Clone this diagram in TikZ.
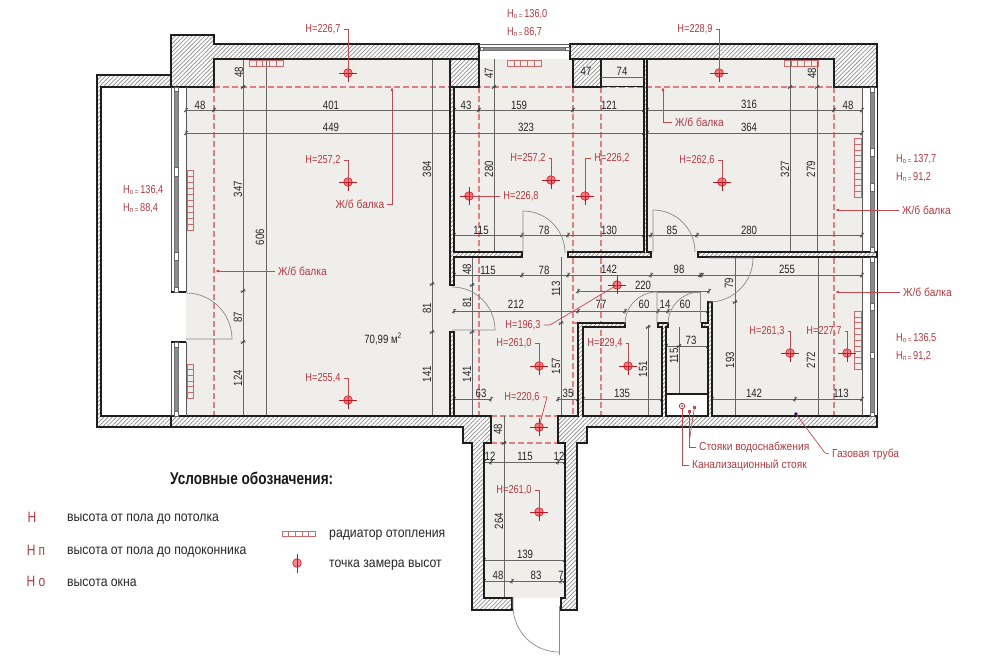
\documentclass[tikz,border=0pt]{standalone}
\usepackage{fontspec}
\setmainfont{Liberation Sans}
\newfontfamily\cond[FakeStretch=0.8]{Liberation Sans}
\newfontfamily\condw[FakeStretch=0.88]{Liberation Sans}
\usetikzlibrary{patterns.meta,arrows.meta}
\definecolor{floorc}{HTML}{F0EEEB}
\definecolor{redt}{HTML}{B23A40}
\definecolor{redl}{HTML}{C04A50}
\definecolor{beamc}{HTML}{DE8082}
\definecolor{ptc}{HTML}{E8202C}
\definecolor{radc}{HTML}{CC6A6C}
\definecolor{dimc}{HTML}{666666}
\definecolor{wallc}{HTML}{1E1E1E}
\definecolor{doorc}{HTML}{8A8A8A}
\tikzset{
  wall/.style={draw=wallc,line width=1.1pt,line join=miter,preaction={fill=white},pattern={Lines[angle=45,distance=3pt,line width=0.7pt]},pattern color=black!45},
  dimline/.style={draw=dimc,line width=0.55pt},
  ticks/.style={draw=black!80,line width=0.55pt},
  beam/.style={draw=beamc,line width=1.1pt,dash pattern=on 6pt off 3pt},
  leader/.style={draw=redl,line width=0.7pt},
  arrowlead/.style={leader,-{Latex[length=4pt,width=3pt]}},
  doorarc/.style={draw=doorc,line width=0.7pt},
  winline/.style={draw=black!65,line width=0.7pt},
  winbar/.style={fill=black!45,draw=black!55,line width=0.4pt},
  winstop/.style={fill=white,draw=black!60,line width=0.4pt},
  radiator/.style={draw=radc,line width=0.6pt},
  dimt/.style={inner sep=0pt,text=black!85,font=\cond\fontsize{12}{12}\selectfont},
  dimr/.style={dimt,rotate=90},
  redt/.style={inner sep=0pt,text=redt,font=\cond\fontsize{11.5}{12}\selectfont},
  redc/.style={inner sep=0pt,text=redt,font=\condw\fontsize{11.6}{12}\selectfont},
  legt/.style={inner sep=0pt,anchor=west,text=black!85,font=\condw\fontsize{13.9}{14}\selectfont},
  legh/.style={inner sep=0pt,text=redt,font=\cond\fontsize{15}{15}\selectfont},
}
\newcount\nid
\newcommand{\dimH}[3]{\global\advance\nid by 1 \node[dimt] (d\the\nid) at (#1,#2) {#3};}
\newcommand{\dimV}[3]{\global\advance\nid by 1 \node[dimr] (d\the\nid) at (#1,#2) {#3};}
\newcommand{\redT}[3]{\global\advance\nid by 1 \node[redt] (r\the\nid) at (#1,#2) {#3};}
\newcommand{\redB}[3]{\global\advance\nid by 1 \node[redc] (r\the\nid) at (#1,#2) {#3};}
\newcommand{\redW}[3]{\global\advance\nid by 1 \node[redc,anchor=west] (r\the\nid) at (#1,#2) {#3};}
\newcommand{\winT}[4]{\global\advance\nid by 1 \node[redt,anchor=west] (r\the\nid) at (#1,#2) {H\raisebox{-1.2pt}{\fontsize{7.5}{8}\selectfont#3 =}\,#4};}
\newcommand{\mpt}[3]{\coordinate (#1) at (#2,#3);
  \fill[ptc,opacity=.55] (#1) circle (4.3pt);
  \draw[ptc,line width=.7pt] (#1) circle (4.3pt);
  \draw[ptc!80!black,line width=.6pt] ([xshift=-9pt]#1) -- ([xshift=9pt]#1) ([yshift=-9pt]#1) -- ([yshift=9pt]#1);}
\newcommand{\radH}[5]{\draw[radiator] (#1,#2) rectangle (#3,#4);
  \foreach \i in {1,...,#5}{\draw[radiator] ({#1+(#3-#1)*\i/#5},#2) -- ({#1+(#3-#1)*\i/#5},#4);}}
\newcommand{\radV}[5]{\draw[radiator] (#1,#2) rectangle (#3,#4);
  \foreach \i in {1,...,#5}{\draw[radiator] (#1,{#2+(#4-#2)*\i/#5}) -- (#3,{#2+(#4-#2)*\i/#5});}}
\begin{document}
\begin{tikzpicture}[x=1pt,y=-1pt]
\useasboundingbox (0,0) rectangle (1000,661);
% ---------- floor
\fill[floorc] (214,59) -- (834,59) -- (834,87) -- (862,87) -- (862,416) -- (558,416) -- (558,443) -- (565,443) -- (565,598) -- (484,598) -- (484,443) -- (491,443) -- (491,416) -- (186,416) -- (186,87) -- (214,87) -- cycle;
\fill[white] (666,394) rectangle (708,416);
% ---------- beams
\draw[beam] (214,87) -- (834,87);
\draw[beam] (214,87) -- (214,416);
\draw[beam] (479,87) -- (479,416);
\draw[beam] (573,87) -- (573,323) -- (578,323);
\draw[beam] (573,327) -- (573,416);
\draw[beam] (601,87) -- (601,416);
\draw[beam] (834,87) -- (834,416);
\draw[beam] (491,416) -- (558,416);
\draw[beam] (491,443) -- (558,443);
% ---------- dimension lines
\foreach \a/\b/\c in {186/862/110,186/862/133,454/862/235,454/862/275,578/709/291,454/708/311,666/708/346,454/491/399,558/578/399,583/662/399,712/862/399,484/565/462,484/565/560,484/565/581,573/644/77}
  {\draw[dimline] (\a,\c) -- (\b,\c);}
\foreach \x/\a/\b in {243/59/416,266/59/416,432/59/416,494/59/252,790/59/252,817/59/252,735/257/416,818/257/416,472/257/416,561/257/416,504/416/598,648/325/416,679/327/394}
  {\draw[dimline] (\x,\a) -- (\x,\b);}
\foreach \x/\y in {186/110,214/110,454/110,479/110,573/110,644/110,647/110,834/110,862/110,186/133,454/133,644/133,647/133,862/133,
  454/235,522/235,568/235,644/235,651/235,697/235,862/235,
  454/275,522/275,568/275,651/275,700/275,702/275,862/275,578/291,709/291,454/311,578/311,625/311,658/311,668/311,708/311,
  454/399,491/399,558/399,578/399,583/399,662/399,712/399,795/399,862/399,484/462,491/462,558/462,565/462,484/560,565/560,484/581,512/581,561/581,565/581,666/346,708/346}
  {\draw[ticks] (\x-2,\y+2) -- (\x+2,\y-2) (\x,\y-2.5) -- (\x,\y+2.5);}
\foreach \x/\y in {243/87,243/291,243/342,494/87,817/87,432/284,432/332,735/302,472/285,472/332,561/323,504/443,648/327,679/346,790/87}
  {\draw[ticks] (\x-2,\y+2) -- (\x+2,\y-2) (\x-2.5,\y) -- (\x+2.5,\y);}
% ---------- walls
\draw[wall] (97,75) -- (171,75) -- (171,87) -- (101,87) -- (101,416) -- (491,416) -- (491,443) -- (484,443) -- (484,598) -- (512,598) -- (512,610) -- (472,610) -- (472,443) -- (463,443) -- (463,427) -- (97,427) -- cycle;
\draw[wall] (558,416) -- (578,416) -- (578,323) -- (625,323) -- (625,327) -- (583,327) -- (583,416) -- (662,416) -- (662,327) -- (658,327) -- (658,323) -- (668,323) -- (668,327) -- (666,327) -- (666,416) -- (708,416) -- (708,327) -- (702,327) -- (702,323) -- (708,323) -- (708,302) -- (712,302) -- (712,416) -- (877,416) -- (877,427) -- (587,427) -- (587,443) -- (577,443) -- (577,610) -- (561,610) -- (561,598) -- (565,598) -- (565,443) -- (558,443) -- cycle;
\draw[wall] (171,35) -- (214,35) -- (214,44) -- (479,44) -- (479,59) -- (214,59) -- (214,87) -- (171,87) -- cycle;
\draw[wall] (450,59) rectangle (479,87);
\draw[wall] (450,87) -- (454,87) -- (454,252) -- (522,252) -- (522,257) -- (454,257) -- (454,285) -- (450,285) -- cycle;
\draw[wall] (450,332) -- (454,332) -- (454,416) -- (450,416) -- cycle;
\draw[wall] (570,44) -- (877,44) -- (877,87) -- (834,87) -- (834,59) -- (570,59) -- cycle;
\draw[wall] (573,59) rectangle (601,87);
\draw[wall] (568,252) -- (644,252) -- (644,59) -- (647,59) -- (647,252) -- (651,252) -- (651,257) -- (568,257) -- cycle;
\draw[wall] (698,252) -- (877,252) -- (877,257) -- (698,257) -- cycle;
\draw[draw=wallc,line width=1.1pt] (601,59) rectangle (644,86.5);
\draw[dimline] (601,77) -- (644,77);
\draw[draw=wallc,line width=1.1pt] (171,416) -- (171,427);
\draw[draw=wallc,line width=1.6pt] (666,394) -- (708,394);
% ---------- windows
\draw[winline] (479,44) -- (570,44);
\draw[winbar] (483,47.5) rectangle (565,50);
\draw[winstop] (480,47.5) rectangle (483,50) (565,47.5) rectangle (569,50);
\foreach \a/\b in {87/292,342/416}{
  \draw[winline] (186,\a) -- (186,\b) (171,\a) -- (171,\b);
  \draw[winbar] (174,\a) rectangle (178,\b);}
\draw[draw=wallc,line width=1.1pt] (171,292) -- (186,292) (171,342) -- (186,342);
\foreach \a/\b in {87/91,167/176,252/260,287/292,342/347,411/416}{\draw[winstop] (174,\a) rectangle (178,\b);}
\foreach \a/\b in {87/252,257/416}{
  \draw[winline] (862,\a) -- (862,\b);
  \draw[draw=wallc,line width=.9pt] (877,\a) -- (877,\b);
  \draw[winbar] (870,\a) rectangle (874,\b);}
\foreach \a/\b in {87/92,148/156,183/191,247/252,257/262,303/310,352/358,412/416}{\draw[winstop] (870,\a) rectangle (874,\b);}
% ---------- doors
\draw[doorarc] (186,339) -- (232,339) arc[start angle=0,end angle=-90,radius=46];
\draw[doorarc] (523,252) -- (523,211) arc[start angle=-90,end angle=0,radius=42];
\draw[doorarc] (653,252) -- (653,210) arc[start angle=-90,end angle=0,radius=42];
\draw[doorarc] (452,330) -- (495,330) arc[start angle=0,end angle=-90,radius=43];
\draw[doorarc] (657,323) -- (657,292) arc[start angle=-90,end angle=-180,radius=32];
\draw[doorarc] (657,292) -- (700,292) -- (700,323);
\draw[doorarc] (700,292) arc[start angle=-90,end angle=-180,radius=32];
\draw[doorarc] (709,258) -- (753,258) arc[start angle=0,end angle=90,radius=44];
\draw[doorarc] (559,606) -- (559,655);
\draw[doorarc] (513,597) -- (513,606) arc[start angle=180,end angle=90,radius=46];
% ---------- radiators
\radH{249}{60}{283}{66.5}{5}
\radH{507}{60}{541}{66.5}{5}
\radH{784}{60}{818}{66.5}{5}
\radV{187}{170}{193}{230}{10}
\radV{187}{364}{193}{398}{6}
\radV{854}{138}{861}{197}{10}
\radV{854}{311}{861}{369}{10}
\radH{282}{531}{315}{536}{5}
% ---------- measurement points
\mpt{p1}{348}{73}
\mpt{p2}{348}{182}
\mpt{p3}{348}{400}
\mpt{p4}{551}{180}
\mpt{p5}{469}{196}
\mpt{p6}{585}{196}
\mpt{p7}{719}{73}
\mpt{p8}{722}{182}
\mpt{p9}{617}{285}
\mpt{p10}{539}{366}
\mpt{p11}{628}{366}
\mpt{p12}{539}{427}
\mpt{p13}{539}{512}
\mpt{p14}{790}{353}
\mpt{p15}{847}{353}
% legend symbol: vertical stroke only
\coordinate (p16) at (297,563);
\fill[ptc,opacity=.55] (p16) circle (4.3pt);
\draw[ptc,line width=.7pt] (p16) circle (4.3pt);
\draw[ptc!80!black,line width=.6pt] ([yshift=-9.5pt]p16) -- ([yshift=9.5pt]p16);
\redT{323}{29}{H=226,7}\draw[leader] (r\the\nid.east) ++(3,0) -- (348,29) -- (p1);
\redT{323}{160}{H=257,2}\draw[leader] (r\the\nid.east) ++(3,0) -- (348,160) -- (p2);
\redT{323}{378}{H=255,4}\draw[leader] (r\the\nid.east) ++(3,0) -- (348,378) -- (p3);
\redT{528}{158}{H=257,2}\draw[leader] (r\the\nid.east) ++(3,0) -- (551,158) -- (p4);
\redT{521}{196}{H=226,8}\draw[leader] (r\the\nid.west) ++(-3,0) -- (p5);
\redT{612}{158}{H=226,2}\draw[leader] (r\the\nid.west) ++(-3,0) -- (585,158) -- (p6);
\redT{695}{29}{H=228,9}\draw[leader] (r\the\nid.east) ++(3,0) -- (719,29) -- (p7);
\redT{697}{160}{H=262,6}\draw[leader] (r\the\nid.east) ++(3,0) -- (722,160) -- (p8);
\redT{523}{325}{H=196,3}\draw[leader] (r\the\nid.east) ++(3,0) -- (550,325) -- (p9);
\redT{514}{343}{H=261,0}\draw[leader] (r\the\nid.east) ++(3,0) -- (539,343) -- (p10);
\redT{605}{343}{H=229,4}\draw[leader] (r\the\nid.east) ++(3,0) -- (628,343) -- (p11);
\redT{522}{397}{H=220,6}\draw[leader] (r\the\nid.east) ++(3,0) -- (547,397) -- (p12);
\redT{514}{490}{H=261,0}\draw[leader] (r\the\nid.east) ++(3,0) -- (539,490) -- (p13);
\redT{767}{331}{H=261,3}\draw[leader] (r\the\nid.east) ++(3,0) -- (790,331) -- (p14);
\redT{824}{331}{H=227,7}\draw[leader] (r\the\nid.east) ++(3,0) -- (847,331) -- (p15);
% ---------- beam labels
\coordinate (b1) at (392,87);\coordinate (b2) at (663,87);\coordinate (b3) at (835,210);\coordinate (b4) at (835,292);\coordinate (b5) at (215,271);
\redB{360}{204}{Ж/б балка}\draw[arrowlead] (r\the\nid.east) ++(3,0) -- (392,204) -- (b1);
\redW{675}{122}{Ж/б балка}\draw[arrowlead] (r\the\nid.west) ++(-3,0) -- (663,122) -- (b2);
\redW{902}{210}{Ж/б балка}\draw[arrowlead] (r\the\nid.west) ++(-3,0) -- (b3);
\redW{903}{292}{Ж/б балка}\draw[arrowlead] (r\the\nid.west) ++(-3,0) -- (b4);
\redW{278}{271}{Ж/б балка}\draw[arrowlead] (r\the\nid.west) ++(-3,0) -- (b5);
% ---------- window labels
\winT{123}{190}{о}{136,4}
\winT{123}{208}{п}{88,4}
\winT{507}{14}{о}{136,0}
\winT{507}{32}{п}{86,7}
\winT{896}{159}{о}{137,7}
\winT{896}{177}{п}{91,2}
\winT{896}{338}{о}{136,5}
\winT{896}{356}{п}{91,2}
% ---------- risers and gas pipe
\coordinate (rs1) at (682,406);\coordinate (rs2) at (689.5,411);\coordinate (rs3) at (694.5,407);\coordinate (gas) at (796,414);
\draw[red!70!black,line width=.6pt] (rs1) circle (2.7pt);
\fill[red!70!black] (rs1) circle (.9pt);
\fill[redl] (rs2) ++(-1.5,-1.5) rectangle ++(3,3);
\fill[redl] (rs3) ++(-1.5,-1.5) rectangle ++(3,3);
\fill[blue!60!black] (gas) circle (1.9pt);
\redW{692}{465}{Канализационный стояк}\draw[leader] (r\the\nid.west) ++(-3,0) -- (682,465) -- (682,409);
\redW{699}{447}{Стояки водоснабжения}\draw[leader] (r\the\nid.west) ++(-3,0) -- (689.5,447) -- (rs2);
\draw[leader] (689.5,440) -- (rs3);
\redW{832}{454}{Газовая труба}\draw[leader] (r\the\nid.west) ++(-3,0) -- (825,453) -- (gas);
% ---------- dimension texts
\dimH{200}{105}{48}\dimH{331}{105}{401}\dimH{331}{127}{449}\dimH{466}{105}{43}\dimH{519}{105}{159}\dimH{609}{105}{121}
\dimH{526}{127}{323}\dimH{749}{104}{316}\dimH{848}{105}{48}\dimH{749}{127}{364}
\dimH{481}{230}{115}\dimH{544}{230}{78}\dimH{609}{230}{130}\dimH{672}{230}{85}\dimH{749}{230}{280}
\dimH{488}{270}{115}\dimH{544}{270}{78}\dimH{609}{269}{142}\dimH{679}{269}{98}\dimH{787}{269}{255}
\dimH{643}{285}{220}\dimH{516}{304}{212}\dimH{601}{304}{77}\dimH{644}{304}{60}\dimH{665}{304}{14}\dimH{685}{304}{60}
\dimH{691}{340}{73}\dimH{481}{393}{63}\dimH{568}{393}{35}\dimH{622}{393}{135}\dimH{754}{393}{142}\dimH{841}{393}{113}
\dimH{490}{456}{12}\dimH{525}{456}{115}\dimH{559}{456}{12}\dimH{525}{554}{139}\dimH{498}{575}{48}\dimH{536}{575}{83}\dimH{561}{575}{7}
\dimH{586}{71}{47}\dimH{622}{71}{74}
\dimV{239}{72}{48}\dimV{238}{189}{347}\dimV{238}{317}{87}\dimV{238}{378}{124}\dimV{260}{237}{606}
\dimV{427}{169}{384}\dimV{427}{308}{81}\dimV{427}{374}{141}\dimV{489}{73}{47}\dimV{489}{169}{280}
\dimV{785}{169}{327}\dimV{812}{73}{48}\dimV{811}{169}{279}\dimV{730}{360}{193}\dimV{729}{283}{79}\dimV{811}{360}{272}
\dimV{467}{269}{48}\dimV{467}{302}{81}\dimV{467}{374}{141}\dimV{556}{289}{113}\dimV{556}{366}{157}
\dimV{498}{429}{48}\dimV{499}{521}{264}\dimV{643}{369}{151}\dimV{674}{356}{115}
\node[dimt] (area) at (383,339) {70,99 м\textsuperscript{2}};
% ---------- legend
\node[inner sep=0pt,anchor=west,text=black!90,font=\cond\bfseries\fontsize{17}{17}\selectfont] (legtitle) at (170,478) {Условные обозначения:};
\node[legh] (lh1) at (32,517) {H};
\node[legh] (lh2) at (36,550) {H п};
\node[legh] (lh3) at (36,581) {H о};
\node[legt] (lt1) at (67,519) {высота от пола до потолка};
\node[legt] (lt2) at (67,552) {высота от пола до подоконника};
\node[legt] (lt3) at (67,583) {высота окна};
\node[legt] (lt4) at (329,535) {радиатор отопления};
\node[legt] (lt5) at (329,565) {точка замера высот};
\end{tikzpicture}
\end{document}
